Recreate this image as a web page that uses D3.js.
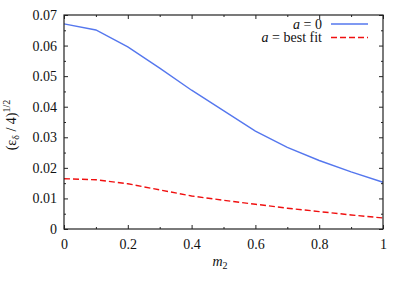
<!DOCTYPE html>
<html><head><meta charset="utf-8">
<script src="https://cdn.jsdelivr.net/npm/d3@7"></script>
<style>body{margin:0;background:#fff}</style>
</head><body>
<svg id="c" width="407" height="284"></svg>
<script>
const m2 = [0,0.1,0.2,0.3,0.4,0.5,0.6,0.7,0.8,0.9,1.0];
const aZero = [0.0671,0.0651,0.0596,0.0526,0.0454,0.0387,0.0320,0.0267,0.0224,0.0187,0.0153];
const aBest = [0.01645,0.0161,0.0148,0.0128,0.0108,0.0094,0.0081,0.0068,0.0057,0.0046,0.0036];
const xTicks = [0,0.2,0.4,0.6,0.8,1];
const xMinor = [0.1,0.3,0.5,0.7,0.9];
const yTicks = [0,0.01,0.02,0.03,0.04,0.05,0.06,0.07];
const yMinor = [0.005,0.015,0.025,0.035,0.045,0.055,0.065];
const series = [
  {name:"best fit", label:"= best fit", values:aBest, color:"#f01010", dash:"6,3"},
  {name:"zero", label:"= 0", values:aZero, color:"#5577ee", dash:null}
];
const FF = '"Liberation Serif"';

const svg = d3.select("#c");
const L=64,R=383,T=15,B=229;
const x = d3.scaleLinear().domain([0,1]).range([L,R]);
const y = d3.scaleLinear().domain([0,0.07]).range([B,T]);
const fmt = d => d===0 ? "0" : (d===1 ? "1" : String(+d.toFixed(2)));

const ax = (axis, tr) => svg.append("g").attr("transform",tr).call(axis)
  .call(s=>s.select(".domain").remove())
  .call(s=>s.selectAll("line").attr("stroke","#222"));
const yl = ax(d3.axisLeft(y).tickValues(yTicks).tickSize(-4).tickPadding(7).tickFormat(fmt),`translate(${L},0)`);
yl.selectAll("text").attr("font-size",14).attr("fill","#111");
ax(d3.axisLeft(y).tickValues(yMinor).tickSize(-2).tickFormat(""),`translate(${L},0)`);
ax(d3.axisRight(y).tickValues(yTicks).tickSize(-4).tickFormat(""),`translate(${R},0)`);
ax(d3.axisRight(y).tickValues(yMinor).tickSize(-2).tickFormat(""),`translate(${R},0)`);
const xl = ax(d3.axisBottom(x).tickValues(xTicks).tickSize(-4).tickPadding(10).tickFormat(fmt),`translate(0,${B})`);
xl.selectAll("text").attr("font-size",14).attr("fill","#111");
ax(d3.axisBottom(x).tickValues(xMinor).tickSize(-2).tickFormat(""),`translate(0,${B})`);
ax(d3.axisTop(x).tickValues(xTicks).tickSize(-4).tickFormat(""),`translate(0,${T})`);
ax(d3.axisTop(x).tickValues(xMinor).tickSize(-2).tickFormat(""),`translate(0,${T})`);

const line = d3.line().x((d,i)=>x(m2[i])).y(d=>y(d));
series.forEach(s=>{
  svg.append("path").attr("d",line(s.values)).attr("fill","none")
    .attr("stroke",s.color).attr("stroke-width",1.4)
    .attr("stroke-dasharray",s.dash);
});

svg.append("rect").attr("x",L).attr("y",T).attr("width",R-L).attr("height",B-T)
  .attr("fill","none").attr("stroke","#222").attr("stroke-width",1.2);

// legend
const leg = [series[1],series[0]];
leg.forEach((s,i)=>{
  const ly = 24 + i*13.5;
  const t = svg.append("text").attr("x",322).attr("y",ly+4.5).attr("text-anchor","end")
    .attr("font-size",14).attr("fill","#111");
  t.append("tspan").attr("font-style","italic").text("a");
  t.append("tspan").text(" "+s.label);
  svg.append("line").attr("x1",331).attr("x2",368).attr("y1",ly).attr("y2",ly)
    .attr("stroke",s.color).attr("stroke-width",1.4).attr("stroke-dasharray",s.dash);
});

// axis labels
const xt = svg.append("text").attr("x",220).attr("y",266).attr("text-anchor","middle").attr("font-size",14).attr("fill","#111");
xt.append("tspan").attr("font-style","italic").text("m");
xt.append("tspan").attr("font-size",10).attr("dy",3).text("2");

const yt = svg.append("text").attr("transform","translate(16,125) rotate(-90)").attr("text-anchor","middle").attr("font-size",14).attr("fill","#111");
yt.append("tspan").text("(ε");
yt.append("tspan").attr("font-size",10).attr("dy",3).text("δ");
yt.append("tspan").attr("dy",-3).text(" / 4)");
yt.append("tspan").attr("font-size",10).attr("dy",-6).text("1/2");

svg.selectAll("text").style("font-family",FF);
</script>
</body></html>
